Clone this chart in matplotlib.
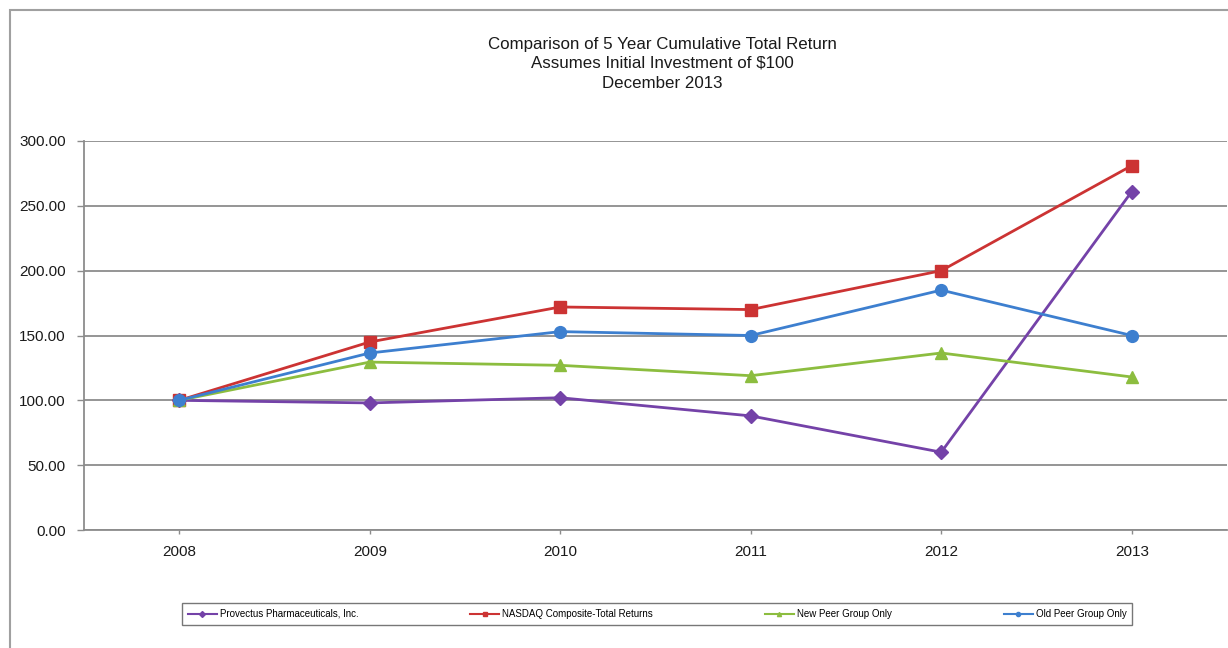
import matplotlib
matplotlib.use('Agg')
import matplotlib.pyplot as plt
from matplotlib.patches import Rectangle

plt.rcParams['font.family'] = ['Liberation Sans', 'DejaVu Sans']

years = ['2008', '2009', '2010', '2011', '2012', '2013']
provectus = [100, 98, 102, 88, 60, 261]
nasdaq = [100, 145, 172, 170, 200, 281]
new_peer = [100, 129.5, 127, 119, 136.5, 118]
old_peer = [100, 136.5, 153, 150, 185, 150]
yticks = [0, 50, 100, 150, 200, 250, 300]

fig = plt.figure(figsize=(12.28, 6.48), dpi=100)
fig.patches.append(Rectangle((10 / 1228, -0.01), 1.2, 1 - 10 / 648 + 0.01,
                             transform=fig.transFigure, fill=False,
                             edgecolor='#a0a0a0', linewidth=1.5))

ax = fig.add_axes([84 / 1228, 1 - 530 / 648, (1227 - 84) / 1228, (530 - 141) / 648])

x = range(len(years))
series = [
    (provectus, 'Provectus Pharmaceuticals, Inc.', '#7442a8', 'D', 7),
    (nasdaq, 'NASDAQ Composite-Total Returns', '#cc3333', 's', 8),
    (new_peer, 'New Peer Group Only', '#8cbd3f', '^', 9),
    (old_peer, 'Old Peer Group Only', '#3d7fcf', 'o', 8.5),
]
handles = []
for vals, label, color, marker, ms in series:
    ax.plot(x, vals, color=color, linewidth=2, marker=marker, markersize=ms, zorder=3)
    h, = ax.plot([], [], color=color, linewidth=1.5, marker=marker, markersize=3)
    handles.append((h, label))

ax.set_xlim(-0.5, len(years) - 0.5)
ax.set_ylim(0, 300)
ax.set_xticks(list(x))
ax.set_xticklabels(years, fontsize=11)
ax.set_yticks(yticks)
ax.set_yticklabels(['%.2f' % v for v in yticks], fontsize=11)
ax.yaxis.grid(True, color='#8c8c8c', linewidth=1.3)
ax.set_axisbelow(True)
for side in ['top', 'right']:
    ax.spines[side].set_visible(False)
for side in ['left', 'bottom']:
    ax.spines[side].set_color('#8c8c8c')
    ax.spines[side].set_linewidth(1.3)
ax.tick_params(axis='both', colors='#8c8c8c', labelcolor='#1a1a1a', width=1)
ax.tick_params(axis='y', length=5, pad=8)
ax.tick_params(axis='x', length=3, pad=8)

title_lines = ['Comparison of 5 Year Cumulative Total Return',
               'Assumes Initial Investment of $100',
               'December 2013']
for line, ypix in zip(title_lines, [44, 63, 84]):
    fig.text(662 / 1228, 1 - ypix / 648, line, ha='center', va='center',
             fontsize=12.2, color='#1a1a1a')

leg = fig.legend([h for h, _ in handles], [l for _, l in handles], ncol=4,
                 loc='center', bbox_to_anchor=(657 / 1228, 1 - 614 / 648),
                 fontsize=7, frameon=True, fancybox=False, columnspacing=11.5,
                 handlelength=3, handletextpad=0.3, borderpad=0.6)
leg.get_frame().set_edgecolor('#555555')
leg.get_frame().set_linewidth(1)

fig.savefig('out.png', dpi=100)
